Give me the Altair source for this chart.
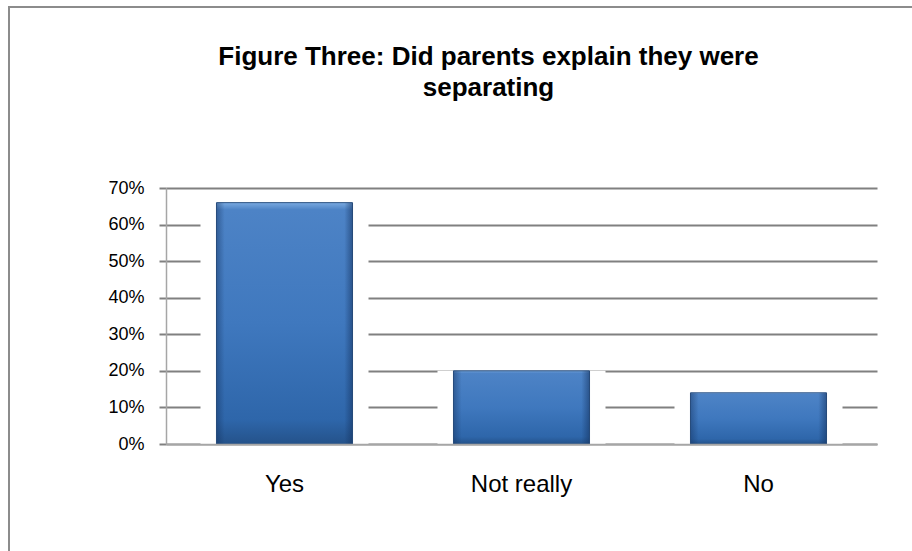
import altair as alt
import pandas as pd

categories = ["Yes", "Not really", "No"]
shares = [0.66, 0.20, 0.14]
y_ticks = [0, 0.1, 0.2, 0.3, 0.4, 0.5, 0.6, 0.7]
title_lines = ["Figure Three: Did parents explain they were", "separating"]

df = pd.DataFrame({"answer": categories, "share": shares})

FONT = "Liberation Sans"

x = alt.X(
    "answer:N", sort=categories, title=None,
    scale=alt.Scale(paddingInner=0.426, paddingOuter=0.213),
    axis=alt.Axis(labelAngle=0, ticks=False, labelFontSize=24, labelPadding=28,
                  labelFont=FONT, labelColor="#000000",
                  domainColor="#a6a6a6", domainWidth=1.5, grid=False, zindex=1),
)
y = alt.Y(
    "share:Q", title=None,
    scale=alt.Scale(domain=[0, 0.7], nice=False),
    axis=alt.Axis(values=y_ticks, format=".0%", labelFontSize=18, labelFont=FONT,
                  labelColor="#000000", labelPadding=15,
                  tickSize=7, tickColor="#808080", tickWidth=2,
                  grid=True, gridColor="#808080", gridWidth=2,
                  domainColor="#a6a6a6", domainWidth=1.5),
)

base = alt.Chart(df).encode(x=x, y=y)

gap = base.mark_bar(size=168, color="#ffffff")

bars = base.mark_bar(
    stroke="#2b5283", strokeWidth=1,
    color=alt.Gradient(
        gradient="linear", x1=0, x2=0, y1=0, y2=1,
        stops=[
            alt.GradientStop(offset=0, color="#7aaae0"),
            alt.GradientStop(offset=0.03, color="#4d83c6"),
            alt.GradientStop(offset=0.5, color="#3f78be"),
            alt.GradientStop(offset=0.9, color="#2e66aa"),
            alt.GradientStop(offset=1, color="#24528a"),
        ],
    ),
)

edges = base.mark_bar(
    color=alt.Gradient(
        gradient="linear", x1=0, x2=1, y1=0, y2=0,
        stops=[
            alt.GradientStop(offset=0, color="rgba(20,50,95,0.45)"),
            alt.GradientStop(offset=0.06, color="rgba(20,50,95,0)"),
            alt.GradientStop(offset=0.94, color="rgba(20,50,95,0)"),
            alt.GradientStop(offset=1, color="rgba(20,50,95,0.55)"),
        ],
    ),
)

frame = alt.Chart(pd.DataFrame({"f": [0]})).mark_rect(
    fillOpacity=0, stroke="#8c8c8c", strokeWidth=2
).encode(
    x=alt.value(-157), x2=alt.value(766), y=alt.value(-181), y2=alt.value(383)
)

chart = alt.layer(gap, bars, edges, frame).properties(
    width=711, height=256,
    padding={"left": 166, "top": 188, "right": 35, "bottom": 107},
    autosize=alt.AutoSizeParams(type="none"),
    background="#ffffff",
    title=alt.TitleParams(
        text=title_lines, fontSize=26, fontWeight="bold", font=FONT,
        color="#000000", anchor="middle", baseline="bottom",
        offset=-121, dx=-33, lineHeight=31,
    ),
).configure_view(strokeWidth=0)

chart.save("out.html", embed_options={"renderer": "svg", "actions": False})
